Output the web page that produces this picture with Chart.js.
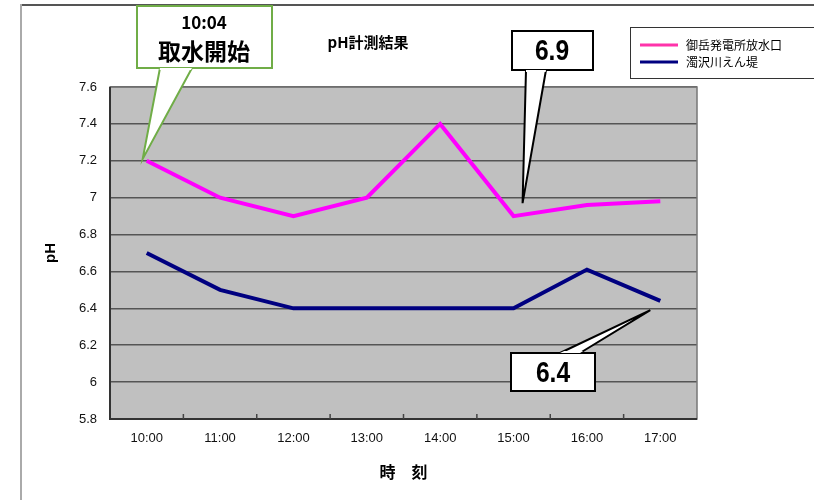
<!DOCTYPE html>
<html>
<head>
<meta charset="utf-8">
<script src="https://cdn.jsdelivr.net/npm/chart.js@4/dist/chart.umd.min.js"></script>
<style>
  html, body { margin: 0; padding: 0; background: #fff; }
  #wrap { width: 814px; height: 500px; }
</style>
</head>
<body>
<div id="wrap"><canvas id="phChart" width="814" height="500"></canvas></div>
<script>
// data
const hours = ["10:00", "11:00", "12:00", "13:00", "14:00", "15:00", "16:00", "17:00"];
const ontakeOutlet = [7.2, 7.0, 6.9, 7.0, 7.4, 6.9, 6.96, 6.98];
const nigorisawaDam = [6.7, 6.5, 6.4, 6.4, 6.4, 6.4, 6.61, 6.44];
const seriesNames = ["御岳発電所放水口", "濁沢川えん堤"];
const seriesColors = ["#ff00ff", "#000080"];

const JP = '"Noto Sans CJK JP", "Liberation Sans", sans-serif';

// background, plot box, tick marks, title, legend, callouts
const decor = {
  id: "decor",
  beforeDraw(chart) {
    const c = chart.ctx, a = chart.chartArea;
    c.save();
    c.fillStyle = "#c0c0c0";
    c.fillRect(a.left, a.top, a.right - a.left, a.bottom - a.top);
    c.restore();
  },
  afterDraw(chart) {
    const c = chart.ctx, a = chart.chartArea;
    const xs = chart.scales.x, ys = chart.scales.y;
    c.save();

    // outer frame
    c.strokeStyle = "#555";
    c.lineWidth = 2;
    c.beginPath(); c.moveTo(20, 5); c.lineTo(814, 5); c.stroke();
    c.strokeStyle = "#aaa";
    c.beginPath(); c.moveTo(21, 4); c.lineTo(21, 500); c.stroke();

    // plot border
    c.strokeStyle = "#777";
    c.lineWidth = 1.5;
    c.strokeRect(a.left, a.top, a.right - a.left, a.bottom - a.top);
    c.strokeStyle = "#333";
    c.lineWidth = 2;
    c.beginPath();
    c.moveTo(a.left, a.top); c.lineTo(a.left, a.bottom); c.lineTo(a.right, a.bottom);
    c.stroke();

    // x tick marks, inside at the bottom
    c.strokeStyle = "#444";
    c.lineWidth = 1.5;
    for (let i = 1; i < hours.length; i++) {
      const x = (xs.getPixelForValue(i - 1) + xs.getPixelForValue(i)) / 2;
      c.beginPath(); c.moveTo(x, a.bottom); c.lineTo(x, a.bottom - 5); c.stroke();
    }

    // title
    c.fillStyle = "#000";
    c.font = "bold 15px " + JP;
    c.textAlign = "center";
    c.textBaseline = "middle";
    c.fillText("pH計測結果", 368, 42);

    // legend
    c.fillStyle = "#fff";
    c.fillRect(630, 27, 190, 51);
    c.strokeStyle = "#333";
    c.lineWidth = 1;
    c.strokeRect(630.5, 27.5, 190, 51);
    c.lineWidth = 3;
    c.font = "12px " + JP;
    c.textAlign = "left";
    seriesNames.forEach((n, i) => {
      const y = 45 + i * 17;
      c.strokeStyle = i === 0 ? "#ff33aa" : seriesColors[i];
      c.beginPath(); c.moveTo(640, y); c.lineTo(678, y); c.stroke();
      c.fillStyle = "#000";
      c.fillText(n, 686, y);
    });

    // callouts
    function callout(box, base, tip, lines, border) {
      c.beginPath();
      c.moveTo(base[0], base[1]);
      c.lineTo(tip[0], tip[1]);
      c.lineTo(base[2], base[3]);
      c.fillStyle = "#fff";
      c.strokeStyle = border;
      c.lineWidth = 2;
      c.fill(); c.stroke();
      c.fillRect(box[0], box[1], box[2], box[3]);
      c.strokeRect(box[0], box[1], box[2], box[3]);
      // hide the box edge where the pointer joins it
      c.beginPath();
      c.moveTo(base[0], base[1]);
      c.lineTo(tip[0], tip[1]);
      c.lineTo(base[2], base[3]);
      c.closePath();
      c.save(); c.clip();
      c.fillRect(box[0] - 2, box[1] - 2, box[2] + 4, box[3] + 4);
      c.restore();
      c.fillStyle = "#000";
      c.textAlign = "center";
      c.textBaseline = "middle";
      lines.forEach(l => {
        c.save();
        c.translate(l.x, l.y);
        c.scale(l.sx || 1, 1);
        c.font = l.font;
        c.fillText(l.text, 0, 0);
        c.restore();
      });
    }

    const t1 = [xs.getPixelForValue(0) - 4, ys.getPixelForValue(7.21)];
    callout([137, 6, 135, 62], [160, 68, 192, 68], t1, [
      { text: "10:04", x: 204, y: 23, font: "bold 17px " + JP },
      { text: "取水開始", x: 204, y: 51, font: "bold 23px " + JP }
    ], "#70ad47");

    const numFont = "bold 30px 'Liberation Sans', sans-serif";
    const t2 = [xs.getPixelForValue(5) + 9, ys.getPixelForValue(6.97)];
    callout([512, 31, 81, 39], [526, 70, 546, 70], t2, [
      { text: "6.9", x: 552, y: 52, font: numFont, sx: 0.82 }
    ], "#000");

    const t3 = [xs.getPixelForValue(7) - 10, ys.getPixelForValue(6.39)];
    callout([511, 353, 84, 38], [560, 353, 580, 353], t3, [
      { text: "6.4", x: 553, y: 374, font: numFont, sx: 0.82 }
    ], "#000");

    c.restore();
  }
};

new Chart(document.getElementById("phChart"), {
  type: "line",
  data: {
    labels: hours,
    datasets: [
      {
        label: seriesNames[0],
        data: ontakeOutlet,
        borderColor: seriesColors[0],
        borderWidth: 4,
        pointRadius: 0,
        tension: 0,
      },
      {
        label: seriesNames[1],
        data: nigorisawaDam,
        borderColor: seriesColors[1],
        borderWidth: 4,
        pointRadius: 0,
        tension: 0,
      },
    ],
  },
  options: {
    responsive: false,
    animation: false,
    layout: {
      padding: { left: 0, right: 117, top: 87, bottom: 0 },
    },
    plugins: {
      legend: { display: false },
      tooltip: { enabled: false },
      title: { display: false },
    },
    scales: {
      x: {
        offset: true,
        grid: { display: false, drawTicks: false },
        border: { display: false },
        ticks: {
          color: "#111",
          padding: 12,
          font: { family: "Liberation Sans", size: 13 },
          maxRotation: 0,
        },
        title: {
          display: true,
          text: "時　刻",
          color: "#000",
          font: { family: "Noto Sans CJK JP", size: 16, weight: "bold" },
          padding: { top: 6, bottom: 18 },
        },
        afterFit: (s) => { s.height = 81; },
      },
      y: {
        min: 5.8,
        max: 7.6,
        grid: {
          color: "#555",
          lineWidth: 1.5,
          drawTicks: false,
        },
        border: { display: false },
        ticks: {
          stepSize: 0.2,
          color: "#111",
          padding: 13,
          font: { family: "Liberation Sans", size: 13 },
          callback: (v) => Math.round(v * 10) / 10,
        },
        title: {
          display: true,
          text: "pH",
          color: "#000",
          font: { family: "Liberation Sans", size: 15, weight: "bold" },
          padding: { top: 42, bottom: 0 },
        },
        afterFit: (s) => { s.width = 110; },
      },
    },
  },
  plugins: [decor],
});
</script>
</body>
</html>
